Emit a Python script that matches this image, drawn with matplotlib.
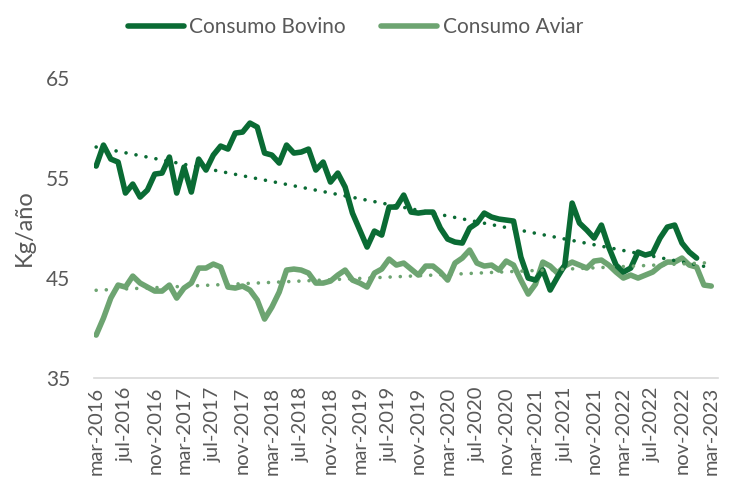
import numpy as np
import pandas as pd
import matplotlib
matplotlib.use("Agg")
import matplotlib.pyplot as plt

# datos mensuales mar-2016 .. mar-2023 (kg/año)
bovino = [56.2, 58.3, 56.9, 56.6, 53.5, 54.4, 53.1, 53.8, 55.4, 55.5,
          57.1, 53.5, 56.1, 53.6, 56.9, 55.8, 57.3, 58.2, 57.9, 59.5,
          59.6, 60.5, 60.1, 57.5, 57.3, 56.5, 58.3, 57.5, 57.6, 57.9,
          55.8, 56.6, 54.6, 55.5, 54.1, 51.5, 49.8, 48.1, 49.7, 49.3,
          52.1, 52.1, 53.3, 51.6, 51.5, 51.6, 51.6, 50.0, 48.9, 48.6,
          48.5, 50.0, 50.5, 51.5, 51.1, 50.9, 50.8, 50.7, 47.1, 45.0,
          44.8, 45.8, 43.8, 45.1, 46.3, 52.5, 50.5, 49.8, 49.0, 50.3,
          48.1, 46.3, 45.6, 46.0, 47.6, 47.3, 47.5, 49.0, 50.1, 50.3,
          48.5, 47.6, 47.0]
aviar = [39.3, 41.0, 43.0, 44.3, 44.1, 45.2, 44.5, 44.1, 43.7, 43.7,
         44.3, 43.0, 44.0, 44.5, 46.0, 46.0, 46.4, 46.1, 44.1, 44.0,
         44.2, 43.8, 42.8, 40.9, 42.1, 43.6, 45.8, 45.9, 45.8, 45.5,
         44.5, 44.5, 44.7, 45.3, 45.8, 44.8, 44.5, 44.1, 45.5, 45.9,
         46.9, 46.3, 46.5, 45.9, 45.3, 46.2, 46.2, 45.6, 44.8, 46.5,
         47.0, 47.8, 46.5, 46.2, 46.3, 45.8, 46.7, 46.3, 44.8, 43.4,
         44.4, 46.6, 46.2, 45.5, 46.2, 46.6, 46.3, 46.0, 46.7, 46.8,
         46.3, 45.6, 45.0, 45.3, 45.0, 45.3, 45.6, 46.2, 46.6, 46.6,
         47.0, 46.3, 46.1, 44.3, 44.2]

meses = ["ene", "feb", "mar", "abr", "may", "jun",
         "jul", "ago", "sep", "oct", "nov", "dic"]
fechas = pd.date_range("2016-03-01", periods=len(aviar), freq="MS")
etiquetas = [f"{meses[d.month - 1]}-{d.year}" for d in fechas]

c_bov = "#0A6B34"
c_avi = "#6DA471"
gris = "#595959"

plt.rcParams["font.family"] = ["Lato", "DejaVu Sans"]

fig = plt.figure(figsize=(7.34, 4.91), dpi=100)
ax = fig.add_axes([0.128, 0.230, 0.850, 0.611])

x_b = np.arange(len(bovino))
x_a = np.arange(len(aviar))

ax.plot(x_b, bovino, color=c_bov, lw=4.0, solid_joinstyle="round",
        solid_capstyle="round", label="Consumo Bovino", zorder=3)
ax.plot(x_a, aviar, color=c_avi, lw=4.0, solid_joinstyle="round",
        solid_capstyle="round", label="Consumo Aviar", zorder=2)

# lineas de tendencia (ajuste lineal)
pb = np.polyfit(x_b, bovino, 1)
pa = np.polyfit(x_a, aviar, 1)
xt_b = np.arange(0, len(bovino) + 1)
ax.plot(xt_b, np.polyval(pb, xt_b), color=c_bov, lw=2.6,
        linestyle=(0, (0.01, 2.8)), dash_capstyle="round", zorder=4)
ax.plot(x_a, np.polyval(pa, x_a), color=c_avi, lw=2.6,
        linestyle=(0, (0.01, 2.8)), dash_capstyle="round", zorder=4)

ax.set_xlim(-0.3, 84.9)
ax.set_ylim(35, 65)
ax.set_yticks([35, 45, 55, 65])
ax.set_xticks(x_a[::4])
ax.set_xticklabels(etiquetas[::4], rotation=90)
ax.tick_params(axis="x", length=0, labelsize=14.5, colors=gris, pad=6)
ax.tick_params(axis="y", length=0, labelsize=15, colors=gris, pad=17)

for s in ["left", "right", "top"]:
    ax.spines[s].set_visible(False)
ax.spines["bottom"].set_color("#D9D9D9")
ax.spines["bottom"].set_linewidth(1.2)

ax.set_ylabel("Kg/año", fontsize=17, color=gris, labelpad=8)

fig.legend(loc="center", bbox_to_anchor=(0.484, 0.945), ncol=2,
           frameon=False, fontsize=15, labelcolor=gris,
           handlelength=2.7, handletextpad=0.25, columnspacing=1.7)

fig.savefig("out.png", dpi=100)
